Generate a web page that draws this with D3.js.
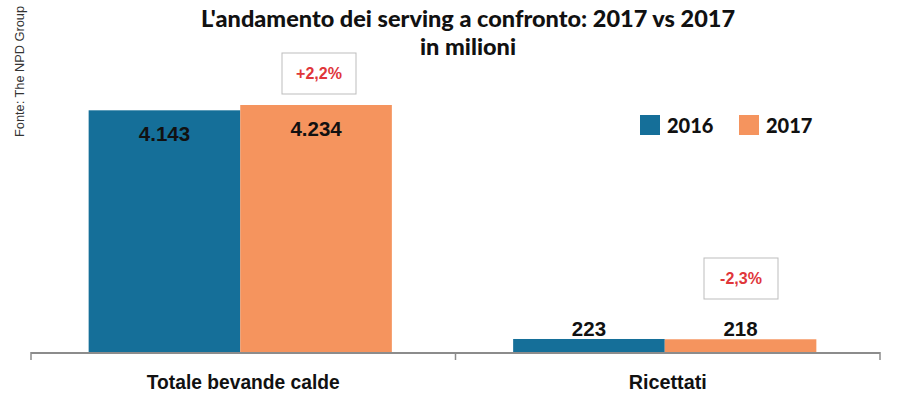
<!DOCTYPE html>
<html><head><meta charset="utf-8">
<script src="https://cdn.jsdelivr.net/npm/d3@7"></script>
<style>body{margin:0;background:#fff}</style>
</head><body>
<svg id="c" width="898" height="396"></svg>
<script>
const categories = ["Totale bevande calde", "Ricettati"];
const seriesNames = ["2016", "2017"];
const values2016 = [4143, 223];
const values2017 = [4234, 218];
const valueLabels2016 = ["4.143", "223"];
const valueLabels2017 = ["4.234", "218"];
const changeLabels = ["+2,2%", "-2,3%"];
const colors = ["#156f99", "#f5945e"];

const svg = d3.select("#c");
const x0 = d3.scaleBand().domain(categories).range([31, 880]).paddingInner(0).paddingOuter(0);
const x1 = d3.scaleBand().domain(seriesNames).range([-3, x0.bandwidth() - 3]).paddingOuter(0.4).paddingInner(0);
const y = d3.scaleLinear().domain([0, 4234]).range([352, 105]);

// title
svg.append("text").attr("x", 468).attr("y", 27).attr("text-anchor", "middle")
  .attr("font-family", "Lato").attr("font-weight", "900").attr("font-size", 23.5).attr("fill", "#111")
  .text("L'andamento dei serving a confronto: 2017 vs 2017");
svg.append("text").attr("x", 468).attr("y", 55).attr("text-anchor", "middle")
  .attr("font-family", "Lato").attr("font-weight", "900").attr("font-size", 23.5).attr("fill", "#111")
  .text("in milioni");

// source
svg.append("text").attr("transform", "translate(24,137) rotate(-90)")
  .attr("font-family", "Liberation Sans").attr("font-size", 13).attr("fill", "#333")
  .attr("textLength", 131).attr("lengthAdjust", "spacingAndGlyphs")
  .text("Fonte: The NPD Group");

const series = [values2016, values2017];
const labels = [valueLabels2016, valueLabels2017];
seriesNames.forEach((s, si) => {
  categories.forEach((c, ci) => {
    const v = series[si][ci];
    const bx = x0(c) + x1(s);
    svg.append("rect").attr("x", bx).attr("y", y(v)).attr("width", x1.bandwidth())
      .attr("height", y(0) - y(v)).attr("fill", colors[si]);
    const inside = (y(0) - y(v)) > 40;
    svg.append("text").attr("x", bx + x1.bandwidth() / 2)
      .attr("y", inside ? y(v) + 31 : y(v) - 3)
      .attr("text-anchor", "middle").attr("font-family", "Liberation Sans").attr("font-weight", "bold")
      .attr("font-size", 20.5).attr("fill", "#111").text(labels[si][ci]);
  });
});

// axis
const axis = svg.append("g").attr("transform", "translate(0,352)")
  .call(d3.axisBottom(x0).tickSize(0).tickFormat(""));
axis.select(".domain").remove();
svg.append("line").attr("x1", 31).attr("x2", 880).attr("y1", 353).attr("y2", 353)
  .attr("stroke", "#8c8c8c").attr("stroke-width", 2);
[31, x0(categories[1]), 880].forEach(t => {
  svg.append("line").attr("x1", t).attr("x2", t).attr("y1", 352).attr("y2", 360)
    .attr("stroke", "#8c8c8c").attr("stroke-width", 1.5);
});
const catWidths = [193, 78];
categories.forEach((c, i) => {
  svg.append("text").attr("x", x0(c) + x0.bandwidth() / 2)
    .attr("y", 389).attr("text-anchor", "middle")
    .attr("font-family", "Liberation Sans").attr("font-weight", "bold")
    .attr("font-size", 20).attr("fill", "#111")
    .attr("textLength", catWidths[i]).attr("lengthAdjust", "spacingAndGlyphs").text(c);
});

// change annotations
const boxes = [{cx: 319, y: 53}, {cx: 741, y: 258}];
changeLabels.forEach((t, i) => {
  const b = boxes[i];
  svg.append("rect").attr("x", b.cx - 37).attr("y", b.y).attr("width", 74).attr("height", 41)
    .attr("fill", "#fff").attr("stroke", "#bdbdbd").attr("stroke-width", 1);
  svg.append("text").attr("x", b.cx).attr("y", b.y + 26).attr("text-anchor", "middle")
    .attr("font-family", "Liberation Sans").attr("font-weight", "bold").attr("font-size", 16)
    .attr("fill", "#e0363a").text(t);
});

// legend
const lx = [640, 739];
seriesNames.forEach((s, i) => {
  svg.append("rect").attr("x", lx[i]).attr("y", 115).attr("width", 20).attr("height", 20).attr("fill", colors[i]);
  svg.append("text").attr("x", lx[i] + 27).attr("y", 133).attr("font-family", "Lato").attr("font-weight", "900")
    .attr("font-size", 20).attr("fill", "#111").text(s);
});
</script>
</body></html>
